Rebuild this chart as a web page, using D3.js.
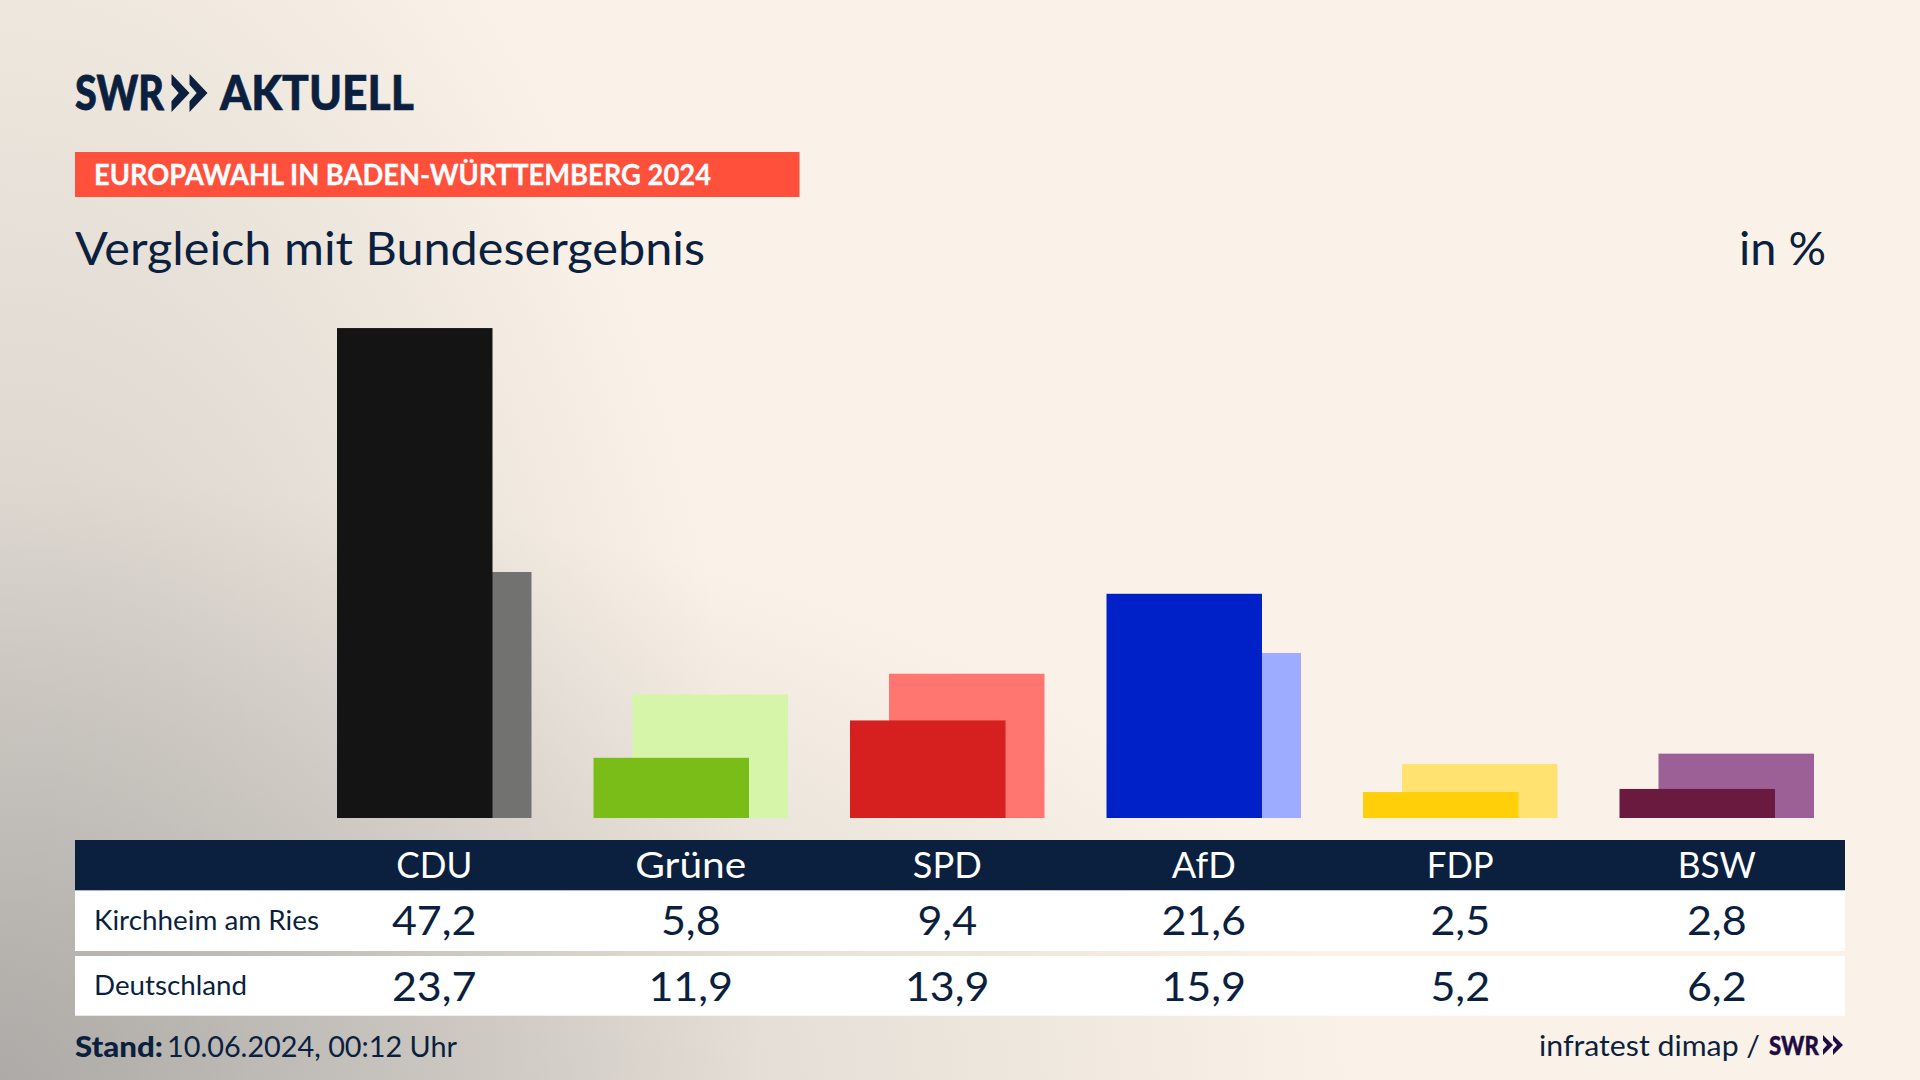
<!DOCTYPE html>
<html lang="de"><head><meta charset="utf-8">
<script src="https://cdn.jsdelivr.net/npm/d3@7"></script>
<style>html,body{margin:0;padding:0;background:#faf2e8;overflow:hidden}svg{display:block}text{font-family:Lato,"Noto Sans",sans-serif;fill:#0b1f3f}</style>
</head><body><svg id="c" width="1920" height="1080"></svg>
<script>
const parties = ["CDU","Grüne","SPD","AfD","FDP","BSW"];
const local = [47.2,5.8,9.4,21.6,2.5,2.8];
const national = [23.7,11.9,13.9,15.9,5.2,6.2];
const rowLabels = ["Kirchheim am Ries","Deutschland"];
const localColors = ["#141414","#7abd19","#d61f1f","#0021c7","#ffcf0a","#6a1a3e"];
const nationalColors = ["#727270","#d7f5a9","#ff7570","#9eacff","#ffe270","#9c5f96"];
const headerWidths = [76,111,69,64,67,78];
const navy = "#0b1f3f";

const svg = d3.select("#c");
const defs = svg.append("defs");
svg.append("rect").attr("width",1920).attr("height",1080).attr("fill","#faf2e8");
[["bgA",1350,600],["bgB",760,1400]].forEach(([id,rx,ry])=>{
  const g = defs.append("radialGradient").attr("id",id).attr("gradientUnits","userSpaceOnUse")
    .attr("cx",0).attr("cy",0).attr("r",1)
    .attr("gradientTransform",`translate(0 1080) scale(${rx} ${ry})`);
  g.append("stop").attr("offset",0).attr("stop-color","#888").attr("stop-opacity",0.43);
  g.append("stop").attr("offset",1).attr("stop-color","#888").attr("stop-opacity",0);
  svg.append("rect").attr("width",1920).attr("height",1080).attr("fill",`url(#${id})`);
});

const fmt = d3.formatLocale({decimal:",",thousands:".",grouping:[3],currency:["","€"]}).format(".1f");
const x = d3.scaleBand().domain(parties).range([306,1845]);
const y = d3.scaleLinear().domain([0,50]).range([818,299]);
const barW = 155.5, off = 39;
const left = p => x(p) + (x.bandwidth()-barW-off)/2;

function fit(sel,w){return sel.attr("textLength",w).attr("lengthAdjust","spacingAndGlyphs");}
function T(t,xx,yy,size,opt={}){
  const s = svg.append("text").attr("x",xx).attr("y",yy).attr("font-size",size).text(t);
  if(opt.w) fit(s,opt.w);
  if(opt.weight) s.attr("font-weight",opt.weight);
  if(opt.anchor) s.attr("text-anchor",opt.anchor);
  if(opt.fill) s.style("fill",opt.fill);
  if(opt.stroke) s.style("stroke",opt.fill||navy).style("stroke-width",opt.stroke);
  return s;
}
function chevrons(xx,yy,w,h,fill){
  const c = w/2;
  [0,c].forEach(d=>{
    svg.append("path").attr("fill",fill).attr("d",
      d3.line()([[xx+d,yy],[xx+d+c,yy+h/2],[xx+d,yy+h],[xx+d,yy+h*0.72],[xx+d+c*0.4,yy+h/2],[xx+d,yy+h*0.28]])+"Z");
  });
}

// Logo
T("SWR",75,110,48,{weight:900,w:89,stroke:0.8});
chevrons(171.5,74,36,38,navy);
T("AKTUELL",220,110,48,{weight:900,w:194,stroke:0.6});

// Header band
svg.append("rect").attr("x",75).attr("y",152).attr("width",724.5).attr("height",45).attr("fill","#ff503c");
T("EUROPAWAHL IN BADEN-WÜRTTEMBERG 2024",94,185,29,{weight:700,w:617,fill:"#fff",stroke:0.3});
T("Vergleich mit Bundesergebnis",75,265,46,{w:630});
T("in %",1739,265,46,{w:87});

// Bars
svg.append("g").selectAll("rect").data(parties).join("rect")
  .attr("x",p=>left(p)+off).attr("width",barW)
  .attr("y",(p,i)=>y(national[i])).attr("height",(p,i)=>y(0)-y(national[i]))
  .attr("fill",(p,i)=>nationalColors[i]);
svg.append("g").selectAll("rect").data(parties).join("rect")
  .attr("x",p=>left(p)).attr("width",barW)
  .attr("y",(p,i)=>y(local[i])).attr("height",(p,i)=>y(0)-y(local[i]))
  .attr("fill",(p,i)=>localColors[i]);

// Table
svg.append("rect").attr("x",75).attr("y",840).attr("width",1770).attr("height",50.5).attr("fill",navy);
svg.append("rect").attr("x",75).attr("y",890.5).attr("width",1770).attr("height",60.5).attr("fill","#fff");
svg.append("rect").attr("x",75).attr("y",956).attr("width",1770).attr("height",59.7).attr("fill","#fff");
const center = p => x(p)+x.bandwidth()/2;
svg.append("g").selectAll("text").data(parties).join("text")
  .attr("x",center).attr("y",878).attr("text-anchor","middle").attr("font-size",37)
  .attr("textLength",(p,i)=>headerWidths[i]).attr("lengthAdjust","spacingAndGlyphs")
  .style("fill","#fff").text(p=>p);
[[local,935,0],[national,1001,1]].forEach(([vals,by,r])=>{
  T(rowLabels[r],94,r?995:930,27,{w:r?153:225});
  svg.append("g").selectAll("text").data(parties).join("text")
    .attr("x",center).attr("y",by).attr("text-anchor","middle").attr("font-size",41)
    .text((p,i)=>fmt(vals[i]))
    .attr("lengthAdjust","spacingAndGlyphs")
    .attr("textLength",function(){return this.getComputedTextLength()*1.05;});
});

// Footer
T("Stand:",75,1057,29,{weight:900,w:88});
T("10.06.2024, 00:12 Uhr",167,1057,29,{w:290});
T("infratest dimap /",1539,1056,29,{w:221});
T("SWR",1769,1055,27,{weight:900,w:50,fill:"#1f0c42",stroke:0.4});
chevrons(1823,1035,20,20,"#1f0c42");
</script></body></html>
